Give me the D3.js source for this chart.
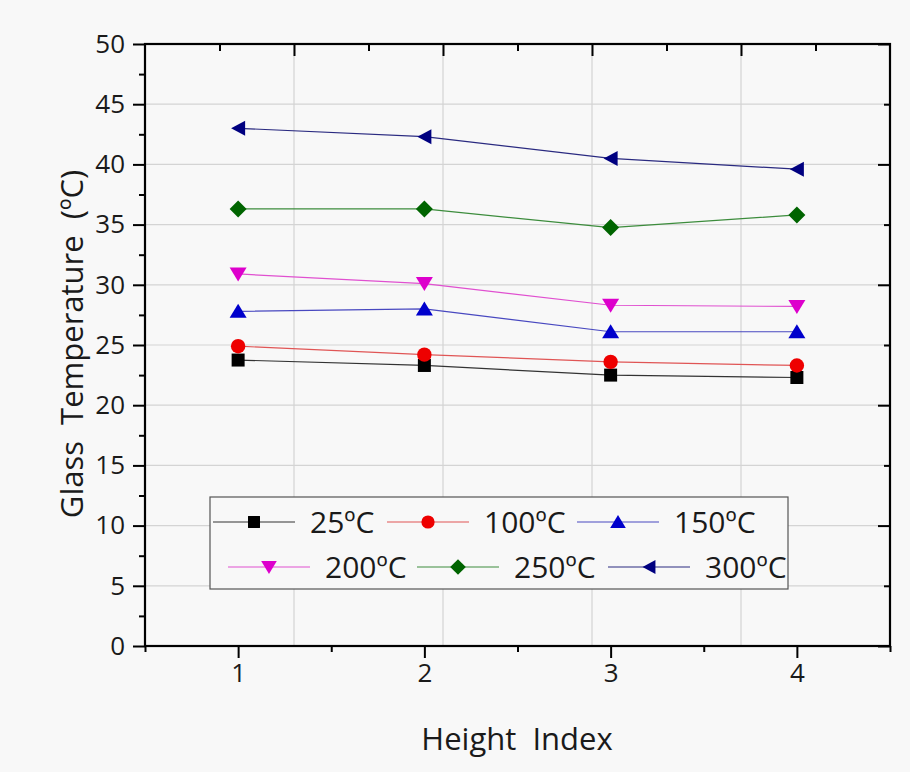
<!DOCTYPE html>
<html><head><meta charset="utf-8">
<script src="https://cdn.jsdelivr.net/npm/d3@7"></script>
<style>
body{margin:0;background:#f8f8f8}
text{font-family:"Open Sans",sans-serif;fill:#1a1a1a}
</style>
</head><body><svg id="c" width="910" height="772"></svg>
<script>
// ---- data ----
const heightIndex = [1, 2, 3, 4];
const seriesNames = ["25ºC", "100ºC", "150ºC", "200ºC", "250ºC", "300ºC"];
const t25  = [23.75, 23.3, 22.5, 22.3];
const t100 = [24.9, 24.2, 23.6, 23.3];
const t150 = [27.8, 28.0, 26.1, 26.1];
const t200 = [30.9, 30.1, 28.3, 28.2];
const t250 = [36.3, 36.3, 34.75, 35.8];
const t300 = [43.0, 42.3, 40.5, 39.6];
const yTicks = [0, 5, 10, 15, 20, 25, 30, 35, 40, 45, 50];
const yMinorTicks = [2.5, 7.5, 12.5, 17.5, 22.5, 27.5, 32.5, 37.5, 42.5, 47.5];
const xTicks = [1, 2, 3, 4];
const xMinorTicks = [0.5, 1.5, 2.5, 3.5, 4.5];
const xGrid = [1.3, 2.1, 2.9, 3.7];
const xTopMinor = [0.9, 1.7, 2.5, 3.3, 4.1];
const yRightMajor = [0, 10, 20, 30, 40, 50];
const yRightMinor = [5, 15, 25, 35, 45];

const seriesValues = [t25, t100, t150, t200, t250, t300];
const markerFill = ["#000000", "#ee0000", "#0000cc", "#dd00cc", "#006400", "#000080"];
const lineColor  = ["#333333", "#e05555", "#4848c0", "#e050d0", "#3c8c3c", "#2a2a80"];
const markerType = ["square", "circle", "up", "down", "diamond", "left"];

const svg = d3.select("#c");
const L = 145, R = 890, T = 44, B = 646;
const x = d3.scaleLinear().domain([0.5, 4.5]).range([L, R]);
const y = d3.scaleLinear().domain([0, 50]).range([B, T]);

svg.append("rect").attr("width", 910).attr("height", 772).attr("fill", "#f8f8f8");

// grid
const g = svg.append("g");
g.selectAll(".hg").data(yTicks.slice(1, -1)).enter().append("line")
  .attr("x1", L).attr("x2", R).attr("y1", d => y(d)).attr("y2", d => y(d))
  .attr("stroke", "#d4d4d4").attr("stroke-width", 1.2);
g.selectAll(".vg").data(xGrid).enter().append("line")
  .attr("y1", T).attr("y2", B).attr("x1", d => x(d)).attr("x2", d => x(d))
  .attr("stroke", "#d4d4d4").attr("stroke-width", 1.2);

function markerPath(type, s) {
  const p = d3.path();
  switch (type) {
    case "square": p.rect(-6.5*s, -6.5*s, 13*s, 13*s); break;
    case "circle": p.arc(0, 0, 7.2*s, 0, 2*Math.PI); break;
    case "up": p.moveTo(0, -7.5*s); p.lineTo(8.5*s, 6.5*s); p.lineTo(-8.5*s, 6.5*s); p.closePath(); break;
    case "down": p.moveTo(0, 7.5*s); p.lineTo(8.5*s, -6.5*s); p.lineTo(-8.5*s, -6.5*s); p.closePath(); break;
    case "diamond": p.moveTo(0, -8.5*s); p.lineTo(8.5*s, 0); p.lineTo(0, 8.5*s); p.lineTo(-8.5*s, 0); p.closePath(); break;
    case "left": p.moveTo(-7*s, 0); p.lineTo(7*s, -7.5*s); p.lineTo(7*s, 7.5*s); p.closePath(); break;
  }
  return p.toString();
}

// series
const line = d3.line().x((d, i) => x(heightIndex[i])).y(d => y(d));
seriesValues.forEach((vals, si) => {
  svg.append("path").attr("d", line(vals)).attr("fill", "none")
    .attr("stroke", lineColor[si]).attr("stroke-width", 1.2);
});
seriesValues.forEach((vals, si) => {
  svg.selectAll(".m" + si).data(vals).enter().append("path")
    .attr("d", markerPath(markerType[si], 1))
    .attr("transform", (d, i) => `translate(${x(heightIndex[i])},${y(d)})`)
    .attr("fill", markerFill[si]);
});

// axes
function styleAxis(sel) {
  sel.attr("font-size", 26).attr("font-family", "Open Sans");
  sel.select(".domain").remove();
  sel.selectAll(".tick line").attr("stroke", "#000").attr("stroke-width", 2);
  sel.selectAll(".tick text").style("font-size", "26px").attr("fill", "#1a1a1a");
}
svg.append("g").attr("transform", `translate(${L},0)`)
  .call(d3.axisLeft(y).tickValues(yTicks).tickSize(12).tickPadding(8).tickFormat(d3.format("d"))).call(styleAxis);
svg.append("g").attr("transform", `translate(${L},0)`)
  .call(d3.axisLeft(y).tickValues(yMinorTicks).tickSize(6).tickFormat("")).call(styleAxis);
svg.append("g").attr("transform", `translate(0,${B})`)
  .call(d3.axisBottom(x).tickValues(xTicks).tickSize(12).tickPadding(6).tickFormat(d3.format("d"))).call(styleAxis);
svg.append("g").attr("transform", `translate(0,${B})`)
  .call(d3.axisBottom(x).tickValues(xMinorTicks).tickSize(6).tickFormat("")).call(styleAxis);
svg.append("g").attr("transform", `translate(0,${T})`)
  .call(d3.axisTop(x).tickValues(xGrid).tickSize(-12).tickFormat("")).call(styleAxis);
svg.append("g").attr("transform", `translate(0,${T})`)
  .call(d3.axisTop(x).tickValues(xTopMinor).tickSize(-7).tickFormat("")).call(styleAxis);
svg.append("g").attr("transform", `translate(${R},0)`)
  .call(d3.axisRight(y).tickValues(yRightMajor).tickSize(-12).tickFormat("")).call(styleAxis);
svg.append("g").attr("transform", `translate(${R},0)`)
  .call(d3.axisRight(y).tickValues(yRightMinor).tickSize(-6).tickFormat("")).call(styleAxis);

svg.append("rect").attr("x", L).attr("y", T).attr("width", R - L).attr("height", B - T)
  .attr("fill", "none").attr("stroke", "#000").attr("stroke-width", 2.2);

// titles
svg.append("text").attr("x", 517).attr("y", 750).attr("text-anchor", "middle")
  .style("font-size", "31px").style("white-space", "pre").text("Height  Index");
svg.append("text").attr("transform", "translate(83,344) rotate(-90)").attr("text-anchor", "middle")
  .style("font-size", "31px").style("white-space", "pre").text("Glass  Temperature  (ºC)");

// legend
const legX = [213, 387, 577, 228, 417, 608];
const legY = [522, 522, 522, 567, 567, 567];
const leg = svg.append("g");
leg.append("rect").attr("x", 210).attr("y", 497).attr("width", 578).attr("height", 92)
  .attr("fill", "#f8f8f8").attr("stroke", "#555").attr("stroke-width", 1.2);
seriesNames.forEach((name, si) => {
  const gx = leg.append("g").attr("transform", `translate(${legX[si]},${legY[si]})`);
  gx.append("line").attr("x1", 0).attr("x2", 82).attr("y1", 0).attr("y2", 0)
    .attr("stroke", lineColor[si]).attr("stroke-width", 1.2);
  gx.append("path").attr("d", markerPath(markerType[si], 0.92)).attr("transform", "translate(41,0)")
    .attr("fill", markerFill[si]);
  gx.append("text").attr("x", 97).attr("y", 11).style("font-size", "30px").text(name);
});
</script>
</body></html>
